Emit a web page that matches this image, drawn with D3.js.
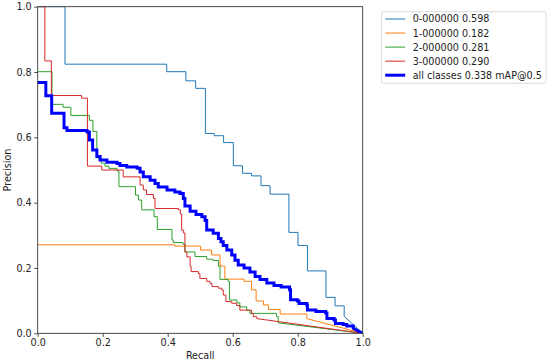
<!DOCTYPE html>
<html>
<head>
<meta charset="utf-8">
<script src="https://cdn.jsdelivr.net/npm/d3@7"></script>
<style>
  body { margin: 0; background: #fff; }
  text { font-family: "DejaVu Sans", sans-serif; fill: #222; }
</style>
</head>
<body>
<svg id="chart"></svg>
<script>
var width = 550,
    height = 362;

// step curves: recall where precision drops, precision after the drop
var rec0 = [0, 0.084, 0.397, 0.456, 0.486, 0.516, 0.543, 0.572, 0.602, 0.630, 0.658, 0.687, 0.715, 0.773, 0.801, 0.830, 0.887, 0.915, 0.943];
var prec0 = [1.0, 0.824, 0.801, 0.773, 0.750, 0.612, 0.605, 0.584, 0.513, 0.490, 0.482, 0.452, 0.426, 0.309, 0.269, 0.191, 0.110, 0.084, 0.052];

var rec1 = [0, 0.422, 0.501, 0.535, 0.561, 0.576, 0.635, 0.658, 0.672, 0.695, 0.710, 0.746, 0.828];
var prec1 = [0.271, 0.267, 0.255, 0.240, 0.206, 0.166, 0.159, 0.133, 0.099, 0.087, 0.073, 0.059, 0.045];

var rec2 = [0, 0.044, 0.078, 0.102, 0.159, 0.170, 0.182, 0.195, 0.207, 0.219, 0.244, 0.250, 0.301, 0.310, 0.320, 0.358, 0.368, 0.413, 0.417, 0.447, 0.453, 0.484, 0.520, 0.539, 0.556, 0.561, 0.586, 0.590, 0.613, 0.622, 0.643, 0.653, 0.735, 0.740];
var prec2 = [0.801, 0.701, 0.692, 0.667, 0.652, 0.618, 0.537, 0.521, 0.512, 0.505, 0.497, 0.449, 0.423, 0.408, 0.378, 0.357, 0.318, 0.286, 0.278, 0.273, 0.249, 0.235, 0.227, 0.223, 0.205, 0.165, 0.159, 0.102, 0.093, 0.081, 0.070, 0.061, 0.051, 0.032];

var rec3 = [0, 0.022, 0.042, 0.135, 0.153, 0.197, 0.263, 0.315, 0.325, 0.335, 0.356, 0.361, 0.433, 0.439, 0.443, 0.449, 0.453, 0.459, 0.469, 0.472, 0.494, 0.499, 0.520, 0.530, 0.536, 0.556, 0.566, 0.571, 0.579, 0.597, 0.612, 0.622, 0.658, 0.663, 0.674];
var prec3 = [1.0, 0.834, 0.728, 0.720, 0.512, 0.500, 0.479, 0.454, 0.439, 0.425, 0.413, 0.382, 0.378, 0.365, 0.316, 0.307, 0.249, 0.234, 0.205, 0.189, 0.183, 0.168, 0.159, 0.153, 0.143, 0.138, 0.133, 0.117, 0.097, 0.092, 0.085, 0.071, 0.061, 0.051, 0.045];

var recAll = [0, 0.025, 0.043, 0.081, 0.090, 0.152, 0.159, 0.169, 0.182, 0.192, 0.213, 0.244, 0.253, 0.274, 0.306, 0.315, 0.325, 0.346, 0.361, 0.371, 0.398, 0.422, 0.438, 0.448, 0.453, 0.469, 0.487, 0.505, 0.515, 0.520, 0.540, 0.556, 0.564, 0.571, 0.582, 0.597, 0.607, 0.617, 0.635, 0.653, 0.669, 0.684, 0.705, 0.727, 0.749, 0.775, 0.778, 0.799, 0.804, 0.828, 0.830, 0.856, 0.886, 0.890, 0.912, 0.916, 0.940, 0.951, 0.971];
var precAll = [0.768, 0.727, 0.674, 0.629, 0.621, 0.616, 0.592, 0.561, 0.541, 0.531, 0.524, 0.520, 0.514, 0.509, 0.505, 0.494, 0.479, 0.469, 0.459, 0.448, 0.439, 0.433, 0.428, 0.413, 0.390, 0.374, 0.364, 0.357, 0.345, 0.316, 0.306, 0.290, 0.280, 0.269, 0.255, 0.240, 0.224, 0.209, 0.200, 0.188, 0.174, 0.165, 0.154, 0.146, 0.142, 0.133, 0.103, 0.099, 0.091, 0.087, 0.071, 0.067, 0.062, 0.045, 0.041, 0.030, 0.027, 0.022, 0.015];

var seriesNames = ["0-000000 0.598", "1-000000 0.182", "2-000000 0.281", "3-000000 0.290", "all classes 0.338 mAP@0.5"];
var seriesColors = ["#1f77b4", "#ff7f0e", "#2ca02c", "#d62728", "#0000ff"];
var seriesWidths = [1, 1, 1, 1, 3];
var ticks = [0, 0.2, 0.4, 0.6, 0.8, 1.0];

var series = [[rec0, prec0], [rec1, prec1], [rec2, prec2], [rec3, prec3], [recAll, precAll]];

var margin = {left: 37.7, right: 187.3, top: 6.7, bottom: 28.7};
var fontSize = "9.6px";

var x = d3.scaleLinear().domain([0, 1]).range([margin.left, width - margin.right]);
var y = d3.scaleLinear().domain([0, 1]).range([height - margin.bottom, margin.top]);

var svg = d3.select("#chart")
    .attr("width", width)
    .attr("height", height);

// stepped curve, last point falls linearly to (1, 0)
function stepPts(r, p) {
    var pts = [];
    for (var i = 0; i < r.length; i++) {
        pts.push([r[i], p[i]]);
        if (i < r.length - 1) pts.push([r[i + 1], p[i]]);
    }
    pts.push([1, 0]);
    return pts;
}

var line = d3.line()
    .x(function (d) { return x(d[0]); })
    .y(function (d) { return y(d[1]); });

svg.append("defs").append("clipPath").attr("id", "clip")
    .append("rect")
    .attr("x", x(0)).attr("y", y(1))
    .attr("width", x(1) - x(0)).attr("height", y(0) - y(1));

var g = svg.append("g").attr("clip-path", "url(#clip)");
series.forEach(function (s, i) {
    g.append("path")
        .attr("d", line(stepPts(s[0], s[1])))
        .attr("fill", "none")
        .attr("stroke", seriesColors[i])
        .attr("stroke-width", seriesWidths[i])
        .attr("stroke-linejoin", "miter");
});

var xAxis = svg.append("g")
    .attr("transform", "translate(0," + y(0) + ")")
    .call(d3.axisBottom(x).tickValues(ticks).tickFormat(d3.format(".1f")).tickSize(3.5).tickPadding(2.5));
var yAxis = svg.append("g")
    .attr("transform", "translate(" + x(0) + ",0)")
    .call(d3.axisLeft(y).tickValues(ticks).tickFormat(d3.format(".1f")).tickSize(3.5).tickPadding(2.5));

[xAxis, yAxis].forEach(function (a) {
    a.select(".domain").remove();
    a.selectAll("line").attr("stroke", "#222").attr("stroke-width", 0.8);
    a.selectAll("text").style("font-size", fontSize).attr("fill", "#222");
});

// frame
svg.append("rect")
    .attr("x", x(0)).attr("y", y(1))
    .attr("width", x(1) - x(0)).attr("height", y(0) - y(1))
    .attr("fill", "none")
    .attr("stroke", "#222")
    .attr("stroke-width", 0.8);

svg.append("text")
    .attr("x", (x(0) + x(1)) / 2)
    .attr("y", 359.3)
    .attr("text-anchor", "middle")
    .style("font-size", fontSize)
    .text("Recall");

svg.append("text")
    .attr("transform", "translate(11.3," + ((y(0) + y(1)) / 2) + ") rotate(-90)")
    .attr("text-anchor", "middle")
    .style("font-size", fontSize)
    .text("Precision");

// legend
var lg = svg.append("g").attr("transform", "translate(381.7,11.7)");
lg.append("rect")
    .attr("width", 164.3).attr("height", 71.6)
    .attr("rx", 2)
    .attr("fill", "#fff")
    .attr("stroke", "#d0d0d0")
    .attr("stroke-width", 0.8);
seriesNames.forEach(function (name, i) {
    var yy = 7.3 + i * 14.05;
    lg.append("line")
        .attr("x1", 3.5).attr("x2", 23.5)
        .attr("y1", yy).attr("y2", yy)
        .attr("stroke", seriesColors[i])
        .attr("stroke-width", seriesWidths[i]);
    lg.append("text")
        .attr("x", 31)
        .attr("y", yy + 3.5)
        .style("font-size", fontSize)
        .text(name);
});
</script>
</body>
</html>
